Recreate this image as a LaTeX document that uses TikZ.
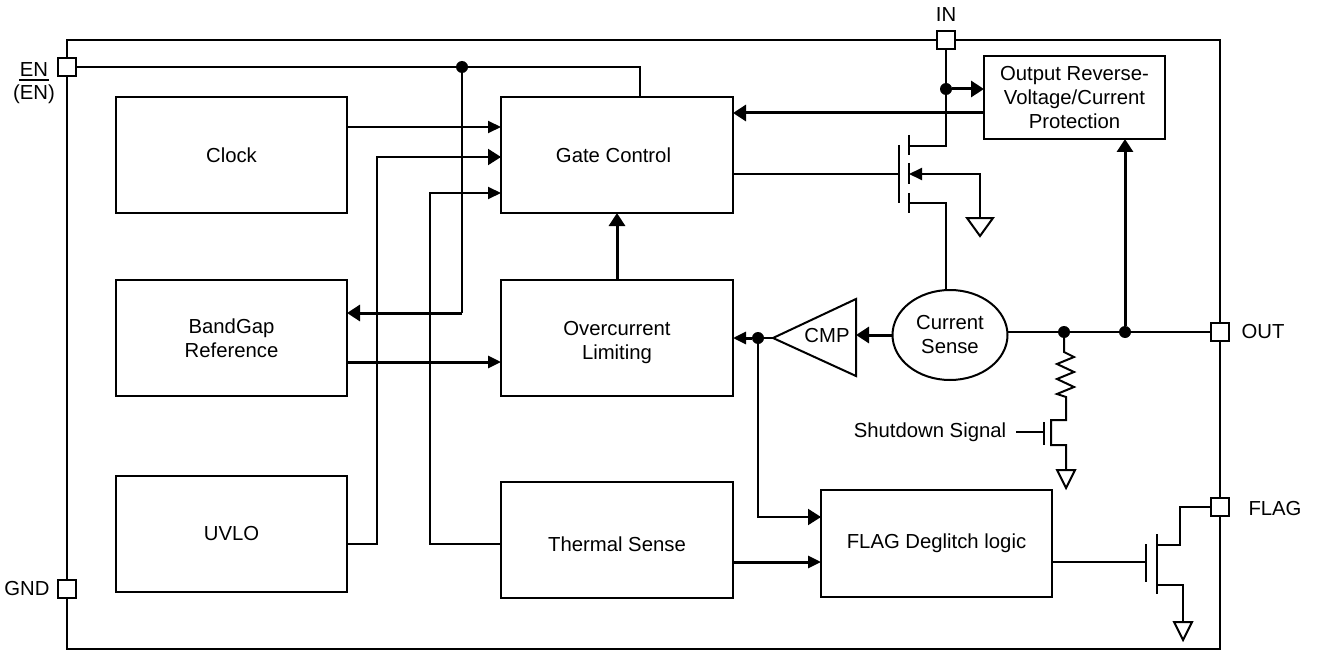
\documentclass[tikz,border=0pt]{standalone}
\usepackage{fontspec}
\setmainfont{Liberation Sans}
\usetikzlibrary{arrows.meta,positioning,shapes.geometric,calc}

\begin{document}
\begin{tikzpicture}[x=1pt, y=-1pt, every node/.style={font=\fontsize{20.3}{24}\selectfont},
  bx/.style={draw, line width=2pt, minimum width=231pt, minimum height=116pt, align=center, inner sep=0pt, outer sep=0pt},
  pad/.style={draw, fill=white, line width=2pt, minimum size=18pt, inner sep=0pt, outer sep=0pt},
  dot/.style={circle, fill=black, minimum size=12pt, inner sep=0pt},
  wire/.style={line width=2pt},
  heavy/.style={line width=3pt},
  arr/.style={-{Triangle[length=13pt,width=12pt]}},
  hvarr/.style={-{Triangle[length=13pt,width=16pt]}}]
\useasboundingbox (0,0) rectangle (1318,650);
% Frame
\draw[wire] (67,40) rectangle (1220,649);
% Pads
\node[pad] (enpad) at (67,67) {};
\node[pad] (inpad) at (946,40) {};
\node[pad] (outpad) at (1220,332) {};
\node[pad] (flagpad) at (1220,507) {};
\node[pad] (gndpad) at (67,589) {};
\node[inner xsep=1pt, inner ysep=3pt, outer sep=0pt] (enlabel) at (34,70) {EN};
\node (enbarlabel) at (34,94) {(EN)};
\node (inlabel) at (946,15) {IN};
\node (outlabel) at (1263,332) {OUT};
\node (flaglabel) at (1275,509) {FLAG};
\node (gndlabel) at (27,589) {GND};
\draw[wire] (enlabel.south west) -- (enlabel.south east);
% Left column
\node[bx] (clockbx) at (231.5,155) {Clock};
\node[bx] (bandgapbx) at (231.5,338) {BandGap\\Reference};
\node[bx] (uvlobx) at (231.5,534) {UVLO};
% Middle column
\node[bx, minimum width=232pt] (gatebx) at (617,155) {\hspace{-7pt}Gate Control};
\node[bx, minimum width=232pt, text height=47pt] (limitbx) at (617,338) {Overcurrent\\Limiting};
\node[bx, minimum width=232pt, text height=23pt] (thermalbx) at (617,540) {Thermal Sense};
% Right side
\node[bx, minimum width=181pt, minimum height=83pt] (protectbx) at (1074.5,97.5) {Output Reverse-\\Voltage/Current\\Protection};
\node[bx, minimum width=231pt, minimum height=107pt] (flagbx) at (936.5,543.5) {FLAG Deglitch logic};
\node[draw, ellipse, line width=2pt, minimum width=115pt, minimum height=90pt, align=center, inner sep=0pt, outer sep=0pt] (sensebx) at (950,335) {Current\\Sense};
% Comparator
\coordinate (cmptip) at (773,338);
\coordinate (cmpbase) at (856,335);
\draw[wire] (cmptip) -- (856,299) -- (856,376) -- cycle;
\node (cmplabel) at (827,336) {CMP};
% Junctions
\node[dot] (endot) at (462,67) {};
\node[dot] (indot) at (946,89) {};
\node[dot] (cmpdot) at (758,338) {};
\node[dot] (shutdot) at (1064,332) {};
\node[dot] (outdot) at (1125,332) {};
% Enable and bias
\draw[wire] (enpad.east) -- (640,67) -- (gatebx.north -| 640,0);
\draw[wire] (endot) -- (endot |- 0,313);
\draw[heavy, hvarr] (endot |- 0,313) -- (bandgapbx.east |- 0,313);
\draw[wire, arr] (clockbx.east |- 0,127) -- (gatebx.west |- 0,127);
\draw[wire, hvarr] (uvlobx.east |- 0,544) -- (377,544) -- (377,157) -- (gatebx.west |- 0,157);
\draw[wire, arr] (thermalbx.west |- 0,544) -- (430,544) -- (430,193) -- (gatebx.west |- 0,193);
% Block to block
\draw[heavy, hvarr] (limitbx.north) -- (gatebx.south);
\draw[heavy, arr] (bandgapbx.east |- 0,362) -- (limitbx.west |- 0,362);
\draw[heavy, hvarr] (protectbx.west |- 0,113) -- (gatebx.east |- 0,113);
\draw[heavy, arr] (thermalbx.east |- 0,562) -- (flagbx.west |- 0,562);
\draw[wire, hvarr] (cmpdot) |- (flagbx.west |- 0,517);
\draw[wire] (cmptip) -- (cmpdot);
\draw[heavy, arr] (cmpdot) -- (limitbx.east |- cmpdot);
\draw[heavy, hvarr] (sensebx.west |- cmpbase) -- (cmpbase);
% Output rail
\draw[wire] (sensebx.east |- outpad) -- (outpad.west);
\draw[heavy, hvarr] (outdot) -- (protectbx.south -| outdot);
\draw[heavy, hvarr] (indot) -- (protectbx.west |- indot);
% Main pass device
\coordinate (mgate) at (899,174);
\coordinate (mchan) at (909,174);
\coordinate (mground) at (980,218);
\draw[wire] (inpad.south) -- (946,146) -- (909,146);
\draw[wire] (gatebx.east |- mgate) -- (mgate);
\draw[wire] (mgate |- 0,145) -- (mgate |- 0,203);
\draw[wire] (909,135) -- (909,155) (909,163) -- (909,184) (909,193) -- (909,213);
\draw[wire, arr] (mground) -- (mground |- mchan) -- (mchan);
\draw[wire] (909,203) -- (946,203) -- (sensebx.north -| 946,0);
\draw[wire] (mground) ++(-13,0) -- ++(26,0) -- ++(-13,18) -- cycle;
% Shutdown branch
\node[inner xsep=10pt, inner ysep=0pt, outer sep=0pt] (shutlabel) at (930,432) {Shutdown Signal};
\coordinate (sgnd) at (1066,470);
\draw[wire] (shutdot) -- (1064,352) -- ++(10,5) -- ++(-17,7) -- ++(17,8) -- ++(-17,7) -- ++(17,8) -- ++(-17,7) -- ++(9,3) -- (1066,420) -- (1051,420) -- (1051,445) -- (1066,445) -- (sgnd);
\draw[wire] (shutlabel.east) -- (1044,0 |- shutlabel.east);
\draw[wire] (1044,422) -- (1044,445);
\draw[wire] (sgnd) ++(-9,0) -- ++(18,0) -- ++(-9,18) -- cycle;
% Flag device
\coordinate (fgate) at (1146,562);
\coordinate (fgnd) at (1183,622);
\draw[wire] (flagbx.east |- fgate) -- (fgate);
\draw[wire] (1146,544) -- (1146,582);
\draw[wire] (1157,534) -- (1157,594);
\draw[wire] (flagpad.west) -- (1180,507) -- (1180,545) -- (1157,545);
\draw[wire] (1157,585) -- (1183,585) -- (fgnd);
\draw[wire] (fgnd) ++(-9,0) -- ++(18,0) -- ++(-9,18) -- cycle;
\end{tikzpicture}
\end{document}
